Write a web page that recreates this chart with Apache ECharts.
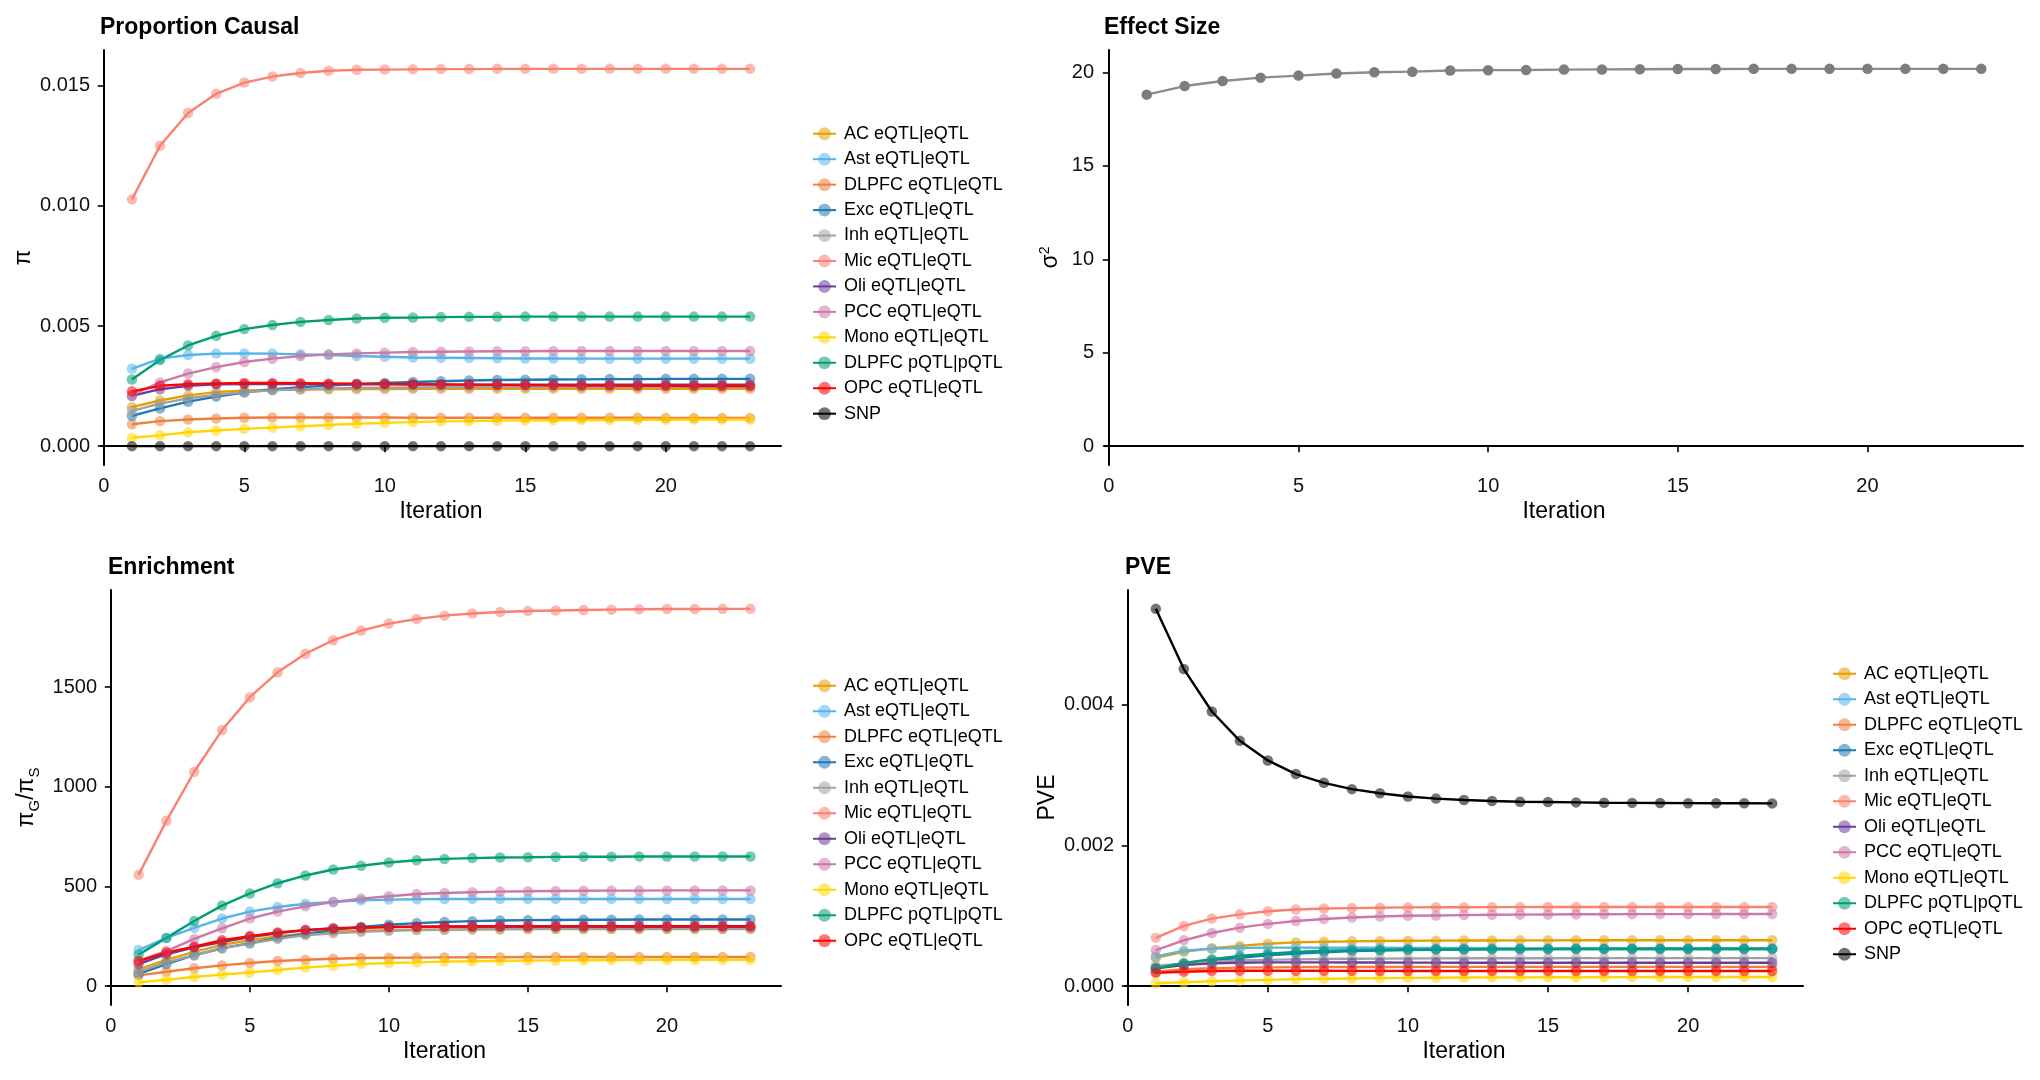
<!DOCTYPE html>
<html>
<head>
<meta charset="utf-8">
<script src="https://cdn.jsdelivr.net/npm/echarts@6/dist/echarts.min.js"></script>
<style>
html,body{margin:0;padding:0;background:#fff;}
#chart{width:2040px;height:1080px;}
</style>
</head>
<body>
<div id="chart"></div>
<script>
// ---------------- data ----------------
const iterations = [1,2,3,4,5,6,7,8,9,10,11,12,13,14,15,16,17,18,19,20,21,22,23];
const seriesNames = ['AC eQTL|eQTL','Ast eQTL|eQTL','DLPFC eQTL|eQTL','Exc eQTL|eQTL','Inh eQTL|eQTL','Mic eQTL|eQTL','Oli eQTL|eQTL','PCC eQTL|eQTL','Mono eQTL|eQTL','DLPFC pQTL|pQTL','OPC eQTL|eQTL','SNP'];
const seriesColors = ['#E69F00','#56B4E9','#F07F3C','#1F78B4','#A0A0A0','#FA8072','#6A3D9A','#CC79A7','#FFD700','#009E73','#FF0000','#000000'];
const xTicks = [0,5,10,15,20];

// Proportion Causal (pi)
const piAC    = [0.00162,0.00190,0.00211,0.00225,0.00231,0.00235,0.00236,0.00237,0.00238,0.00238,0.00239,0.00239,0.00239,0.00239,0.00239,0.00239,0.00239,0.00239,0.00239,0.00239,0.00239,0.00239,0.00239];
const piAst   = [0.00322,0.00364,0.00379,0.00385,0.00386,0.00385,0.00382,0.00379,0.00375,0.00372,0.00369,0.00368,0.00367,0.00366,0.00365,0.00365,0.00364,0.00364,0.00364,0.00364,0.00364,0.00364,0.00364];
const piDLe   = [0.00091,0.00104,0.00111,0.00115,0.00118,0.00119,0.00119,0.00119,0.00119,0.00119,0.00118,0.00118,0.00118,0.00118,0.00118,0.00118,0.00118,0.00118,0.00118,0.00117,0.00117,0.00117,0.00117];
const piExc   = [0.00126,0.00157,0.00185,0.00206,0.00223,0.00236,0.00245,0.00252,0.00258,0.00263,0.00267,0.00270,0.00273,0.00275,0.00276,0.00277,0.00278,0.00279,0.00279,0.00280,0.00280,0.00280,0.00280];
const piInh   = [0.00147,0.00177,0.00199,0.00213,0.00225,0.00232,0.00237,0.00240,0.00242,0.00243,0.00244,0.00245,0.00245,0.00246,0.00246,0.00246,0.00246,0.00246,0.00246,0.00246,0.00246,0.00246,0.00246];
const piMic   = [0.01027,0.01250,0.01386,0.01466,0.01513,0.01538,0.01553,0.01562,0.01566,0.01567,0.01568,0.01569,0.01569,0.01570,0.01570,0.01570,0.01570,0.01570,0.01570,0.01570,0.01570,0.01570,0.01570];
const piOli   = [0.00209,0.00237,0.00251,0.00257,0.00258,0.00258,0.00258,0.00257,0.00257,0.00257,0.00256,0.00256,0.00256,0.00256,0.00256,0.00256,0.00256,0.00256,0.00256,0.00256,0.00256,0.00256,0.00256];
const piPCC   = [0.00213,0.00265,0.00302,0.00329,0.00350,0.00364,0.00375,0.00382,0.00386,0.00389,0.00392,0.00393,0.00394,0.00395,0.00395,0.00396,0.00396,0.00396,0.00396,0.00396,0.00396,0.00396,0.00396];
const piMono  = [0.00035,0.00045,0.00058,0.00065,0.00072,0.00077,0.00083,0.00088,0.00093,0.00097,0.00100,0.00103,0.00104,0.00106,0.00107,0.00108,0.00109,0.00109,0.00110,0.00110,0.00111,0.00111,0.00111];
const piDLp   = [0.00277,0.00358,0.00419,0.00459,0.00487,0.00504,0.00517,0.00525,0.00531,0.00534,0.00535,0.00537,0.00538,0.00538,0.00539,0.00539,0.00539,0.00539,0.00539,0.00539,0.00539,0.00539,0.00539];
const piOPC   = [0.00228,0.00251,0.00258,0.00261,0.00263,0.00263,0.00262,0.00261,0.00260,0.00259,0.00258,0.00257,0.00256,0.00255,0.00254,0.00253,0.00252,0.00252,0.00251,0.00251,0.00250,0.00250,0.00250];
const piSNP   = [0,0,0,0,0,0,0,0,0,0,0,0,0,0,0,0,0,0,0,0,0,0,0];
const piTicks = [0,0.005,0.010,0.015];

// Effect size (sigma^2)
const sigma2 = [18.82,19.28,19.55,19.73,19.84,19.95,20.02,20.05,20.11,20.13,20.14,20.16,20.17,20.18,20.19,20.19,20.20,20.20,20.20,20.20,20.20,20.20,20.20];
const sigmaTicks = [0,5,10,15,20];

// Enrichment
const enAC   = [84,132,172,207,230,251,263,272,278,281,283,284,285,285,286,286,286,286,286,286,286,286,286];
const enAst  = [181,242,292,339,374,397,413,422,430,434,436,437,437,437,437,437,437,437,437,437,437,437,437];
const enDLe  = [54,72,90,104,116,126,132,137,141,142,143,144,145,145,146,146,146,146,146,146,146,146,146];
const enExc  = [61,111,155,190,216,242,263,281,297,308,316,322,326,329,331,332,333,333,334,334,334,334,334];
const enInh  = [72,119,155,190,213,237,255,265,272,278,281,283,285,286,287,288,288,288,288,288,288,288,288];
const enMic  = [558,829,1075,1284,1449,1574,1667,1735,1783,1818,1841,1858,1869,1876,1881,1884,1886,1888,1890,1891,1891,1892,1892];
const enOli  = [111,160,195,221,246,265,281,290,294,297,298,298,298,298,298,298,298,298,298,298,298,298,298];
const enPCC  = [128,176,237,290,339,374,400,422,439,451,462,467,471,474,476,477,478,479,479,480,480,480,480];
const enMono = [19,32,46,58,68,81,93,102,111,116,119,123,125,127,128,129,130,131,131,132,132,132,132];
const enDLp  = [158,242,327,404,465,516,555,585,604,620,631,638,642,645,646,648,649,649,650,650,650,650,650];
const enOPC  = [125,169,198,230,251,269,281,289,293,296,298,299,300,301,301,301,301,301,301,301,301,301,301];
const enTicks = [0,500,1000,1500];

// PVE
const pveAC   = [0.000402,0.000487,0.000537,0.000571,0.000601,0.000621,0.000631,0.000636,0.000641,0.000644,0.000646,0.000648,0.000649,0.000650,0.000650,0.000651,0.000651,0.000651,0.000651,0.000651,0.000651,0.000651,0.000651];
const pveAst  = [0.000422,0.000502,0.000532,0.000542,0.000547,0.000547,0.000546,0.000545,0.000544,0.000543,0.000542,0.000541,0.000540,0.000540,0.000539,0.000539,0.000538,0.000538,0.000538,0.000537,0.000537,0.000537,0.000537];
const pveDLe  = [0.000204,0.000239,0.000253,0.000263,0.000267,0.000270,0.000271,0.000272,0.000272,0.000273,0.000273,0.000273,0.000273,0.000273,0.000273,0.000273,0.000273,0.000273,0.000273,0.000273,0.000273,0.000273,0.000273];
const pveExc  = [0.000253,0.000313,0.000363,0.000402,0.000437,0.000462,0.000482,0.000497,0.000507,0.000513,0.000517,0.000520,0.000522,0.000524,0.000525,0.000526,0.000526,0.000527,0.000527,0.000527,0.000527,0.000527,0.000527];
const pveInh  = [0.000288,0.000323,0.000348,0.000363,0.000373,0.000380,0.000385,0.000389,0.000391,0.000393,0.000394,0.000395,0.000396,0.000397,0.000397,0.000398,0.000398,0.000398,0.000398,0.000398,0.000398,0.000398,0.000398];
const pveMic  = [0.000686,0.000855,0.000959,0.001019,0.001063,0.001088,0.001103,0.001108,0.001113,0.001118,0.001120,0.001121,0.001122,0.001122,0.001123,0.001123,0.001123,0.001123,0.001123,0.001123,0.001123,0.001123,0.001123];
const pveOli  = [0.000253,0.000298,0.000323,0.000333,0.000338,0.000338,0.000337,0.000336,0.000335,0.000334,0.000334,0.000333,0.000333,0.000333,0.000333,0.000333,0.000333,0.000333,0.000333,0.000333,0.000333,0.000333,0.000333];
const pvePCC  = [0.000512,0.000651,0.000755,0.000830,0.000884,0.000924,0.000954,0.000974,0.000989,0.000999,0.001004,0.001009,0.001013,0.001016,0.001018,0.001020,0.001021,0.001022,0.001023,0.001023,0.001024,0.001024,0.001024];
const pveMono = [0.000040,0.000055,0.000070,0.000080,0.000089,0.000099,0.000104,0.000109,0.000114,0.000117,0.000120,0.000122,0.000124,0.000125,0.000126,0.000127,0.000128,0.000128,0.000129,0.000129,0.000129,0.000129,0.000129];
const pveDLp  = [0.000253,0.000328,0.000383,0.000427,0.000462,0.000487,0.000502,0.000512,0.000517,0.000520,0.000522,0.000524,0.000525,0.000526,0.000526,0.000527,0.000527,0.000527,0.000527,0.000527,0.000527,0.000527,0.000527];
const pveOPC  = [0.000189,0.000204,0.000214,0.000219,0.000219,0.000219,0.000218,0.000217,0.000216,0.000215,0.000215,0.000214,0.000214,0.000214,0.000214,0.000214,0.000214,0.000214,0.000214,0.000214,0.000214,0.000214,0.000214];
const pveSNP  = [0.005357,0.004502,0.003900,0.003483,0.003205,0.003011,0.002887,0.002797,0.002738,0.002693,0.002663,0.002643,0.002629,0.002619,0.002614,0.002609,0.002605,0.002602,0.002600,0.002598,0.002597,0.002596,0.002595];
const pveTicks = [0,0.002,0.004];

// ---------------- chart ----------------
const FONT = 'Liberation Sans';
const piSets  = [piAC,piAst,piDLe,piExc,piInh,piMic,piOli,piPCC,piMono,piDLp,piOPC,piSNP];
const enSets  = [enAC,enAst,enDLe,enExc,enInh,enMic,enOli,enPCC,enMono,enDLp,enOPC];
const pveSets = [pveAC,pveAst,pveDLe,pveExc,pveInh,pveMic,pveOli,pvePCC,pveMono,pveDLp,pveOPC,pveSNP];

function pairs(arr){ return iterations.map((x,i)=>[x,arr[i]]); }
function dataMax(sets){ let m = 0; sets.forEach(s=>s.forEach(v=>{ if(v>m) m=v; })); return m; }

const xSpan = iterations[iterations.length-1]-iterations[0];
const xMin = iterations[0]-0.05*xSpan, xMax = iterations[iterations.length-1]+0.05*xSpan;

const grids = [
  {left:101, top:50,  width:680, height:415},
  {left:1105,top:50,  width:918, height:415},
  {left:108, top:590, width:673, height:415},
  {left:1125,top:590, width:678, height:415}
];

function xAxis(i){
  return {
    gridIndex:i, type:'value', min:xMin, max:xMax,
    name:'Iteration', nameLocation:'middle', nameGap:35,
    nameTextStyle:{fontFamily:FONT,fontSize:23,color:'#000'},
    axisLine:{show:true,lineStyle:{color:'#000',width:2}},
    axisTick:{show:true,length:6,lineStyle:{color:'#000',width:1.6},customValues:xTicks},
    axisLabel:{show:true,fontFamily:FONT,fontSize:20,color:'#111',margin:11,customValues:xTicks,formatter:v=>String(v)},
    splitLine:{show:false}
  };
}
function yAxis(i,sets,ticks,fmt,name,gap,rich){
  const m = dataMax(sets);
  return {
    gridIndex:i, type:'value', min:-0.05*m, max:1.05*m,
    name:name, nameLocation:'middle', nameGap:gap, nameRotate:90,
    nameTextStyle:Object.assign({fontFamily:FONT,fontSize:23,color:'#000'}, rich?{rich:rich}:{}),
    axisLine:{show:true,lineStyle:{color:'#000',width:2}},
    axisTick:{show:true,length:6,lineStyle:{color:'#000',width:1.6},customValues:ticks},
    axisLabel:{show:true,fontFamily:FONT,fontSize:20,color:'#111',margin:11,customValues:ticks,formatter:fmt},
    splitLine:{show:false}
  };
}

const series = [];
function addSeries(idx, sets, names, colors){
  sets.forEach((arr,k)=>{
    series.push({
      type:'line', name:names[k], xAxisIndex:idx, yAxisIndex:idx,
      data:pairs(arr), symbol:'circle', symbolSize:10.5, showSymbol:true,
      lineStyle:{color:colors[k],width:2.4},
      itemStyle:{color:colors[k],opacity:0.55},
      emphasis:{disabled:true}, silent:true, animation:false
    });
  });
}
addSeries(0, piSets, seriesNames, seriesColors);
series.push({
  type:'line', name:'sigma2', xAxisIndex:1, yAxisIndex:1, data:pairs(sigma2),
  symbol:'circle', symbolSize:10.5, lineStyle:{color:'#8c8c8c',width:2.4},
  itemStyle:{color:'#7d7d7d',opacity:1}, emphasis:{disabled:true}, silent:true, animation:false
});
addSeries(2, enSets, seriesNames.slice(0,11), seriesColors.slice(0,11));
addSeries(3, pveSets, seriesNames, seriesColors);

function legend(left, top, names, lh){
  return {
    orient:'vertical', left:left, top:top, itemWidth:23, itemHeight:16, itemGap:0,
    selectedMode:false, data:names,
    textStyle:{fontFamily:FONT,fontSize:18,color:'#000',lineHeight:lh,padding:[0,0,0,3]}
  };
}

const titleStyle = {fontFamily:FONT,fontSize:23,fontWeight:'bold',color:'#000'};
const option = {
  animation:false,
  backgroundColor:'#fff',
  title:[
    {text:'Proportion Causal', left:100, top:16, padding:0, textStyle:titleStyle},
    {text:'Effect Size', left:1104, top:16, padding:0, textStyle:titleStyle},
    {text:'Enrichment', left:108, top:556, padding:0, textStyle:titleStyle},
    {text:'PVE', left:1125, top:556, padding:0, textStyle:titleStyle}
  ],
  grid:grids,
  xAxis:[xAxis(0),xAxis(1),xAxis(2),xAxis(3)],
  yAxis:[
    yAxis(0,piSets,piTicks,v=>v.toFixed(3),'π',66),
    yAxis(1,[sigma2],sigmaTicks,v=>String(v),'{s|σ}{sup|2}',41,{s:{fontFamily:FONT,fontSize:23,color:'#000'},sup:{fontFamily:FONT,fontSize:14,color:'#000',verticalAlign:'top',lineHeight:26}}),
    yAxis(2,enSets,enTicks,v=>String(v),'{p|π}{sub|G}{p|/}{p|π}{sub|S}',66,{p:{fontFamily:FONT,fontSize:23,color:'#000'},sub:{fontFamily:FONT,fontSize:15,color:'#000',verticalAlign:'bottom',lineHeight:30}}),
    yAxis(3,pveSets,pveTicks,v=>v.toFixed(3),'PVE',66)
  ],
  legend:[
    legend(807, 116, seriesNames, 25.45),
    legend(807, 668, seriesNames.slice(0,11), 25.5),
    legend(1827, 656, seriesNames, 25.5)
  ],
  series:series
};

const chart = echarts.init(document.getElementById('chart'), null, {renderer:'canvas'});
chart.setOption(option);
</script>
</body>
</html>
